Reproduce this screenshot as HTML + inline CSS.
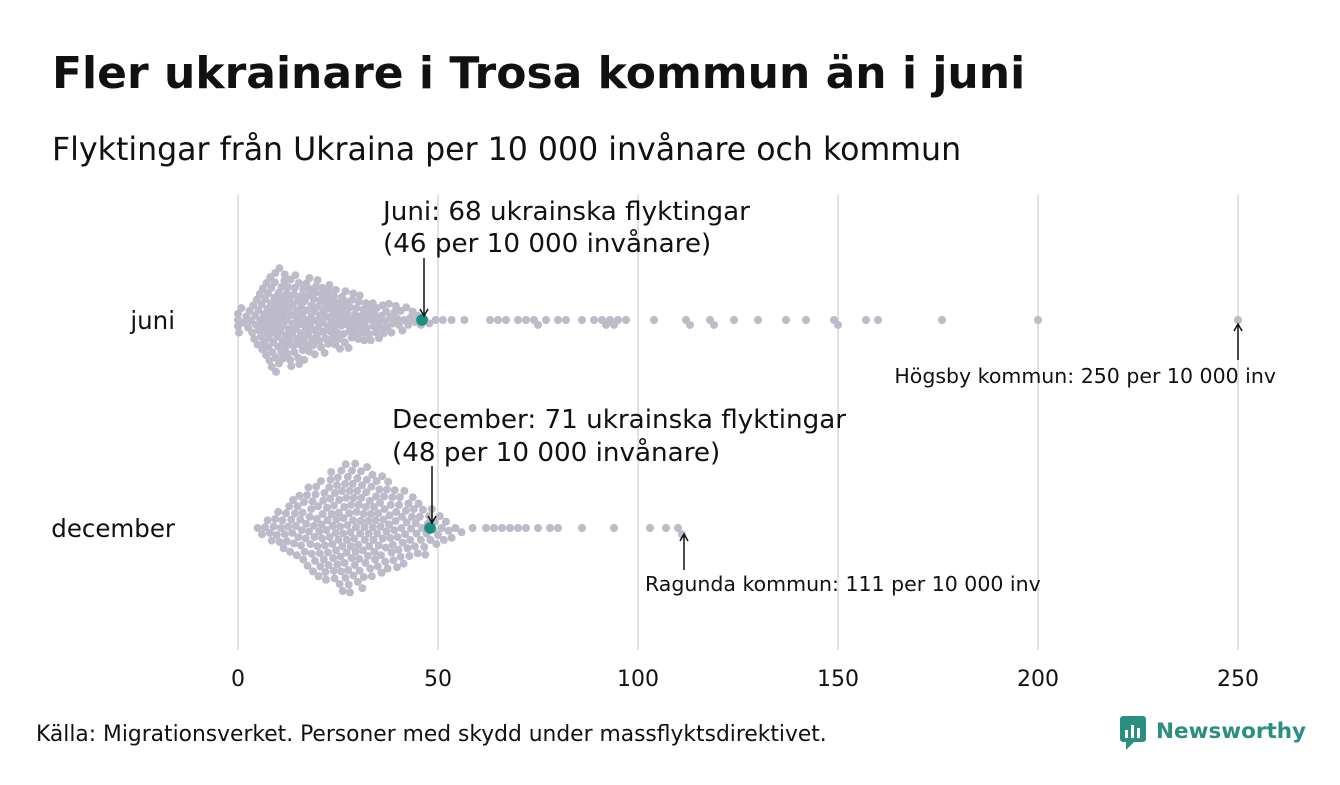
<!DOCTYPE html>
<html><head><meta charset="utf-8"><style>
body{margin:0;width:1340px;height:780px;background:#fff;overflow:hidden;font-family:"Liberation Sans","DejaVu Sans",sans-serif;}
</style></head><body>
<svg id="s" width="1340" height="780" xmlns="http://www.w3.org/2000/svg" font-family="'DejaVu Sans','Liberation Sans',sans-serif">
<text x="52" y="88" font-size="44" font-weight="bold" fill="#111">Fler ukrainare i Trosa kommun än i juni</text>
<text x="52" y="160" font-size="31.6" fill="#111">Flyktingar från Ukraina per 10 000 invånare och kommun</text>
<g stroke="#cfcfcf" stroke-width="1.2">
<line x1="238" y1="195" x2="238" y2="650"/><line x1="438" y1="195" x2="438" y2="650"/>
<line x1="638" y1="195" x2="638" y2="650"/><line x1="838" y1="195" x2="838" y2="650"/>
<line x1="1038" y1="195" x2="1038" y2="650"/><line x1="1238" y1="195" x2="1238" y2="650"/>
</g>
<g font-size="22" fill="#111" text-anchor="middle">
<text x="238" y="686">0</text><text x="438" y="686">50</text><text x="638" y="686">100</text>
<text x="838" y="686">150</text><text x="1038" y="686">200</text><text x="1238" y="686">250</text>
</g>
<g font-size="24.5" fill="#111" text-anchor="end">
<text x="175" y="329">juni</text><text x="175" y="537">december</text>
</g>
<g id="dots"></g>
<g font-size="26.2" fill="#111">
<text x="383" y="220">Juni: 68 ukrainska flyktingar</text>
<text x="383" y="252">(46 per 10 000 invånare)</text>
<text x="392" y="428">December: 71 ukrainska flyktingar</text>
<text x="392" y="461">(48 per 10 000 invånare)</text>
</g>
<g stroke="#111" stroke-width="1.5" fill="none">
<line x1="424" y1="258" x2="424" y2="316"/><path d="M420,309 L424,316 L428,309"/>
<line x1="432" y1="466" x2="432" y2="523"/><path d="M428,516 L432,523 L436,516"/>
<line x1="1238" y1="360" x2="1238" y2="324"/><path d="M1234,331 L1238,324 L1242,331"/>
<line x1="684" y1="570" x2="684" y2="534"/><path d="M680,541 L684,534 L688,541"/>
</g>
<g font-size="20.5" fill="#111">
<text x="1276" y="383" text-anchor="end">Högsby kommun: 250 per 10 000 inv</text>
<text x="645" y="591">Ragunda kommun: 111 per 10 000 inv</text>
</g>
<text x="36" y="741" font-size="21.8" fill="#111">Källa: Migrationsverket. Personer med skydd under massflyktsdirektivet.</text>
<g>
<rect x="1120" y="716" width="26" height="26" rx="3" fill="#2a8f80"/>
<path d="M1126,742 L1126,750 L1134,742 Z" fill="#2a8f80"/>
<rect x="1125" y="730" width="3" height="8" fill="#fff"/><rect x="1131" y="725" width="3" height="13" fill="#fff"/><rect x="1137" y="728" width="3" height="10" fill="#fff"/>
<text x="1156" y="738" font-size="21.5" font-weight="bold" fill="#2a8f80">Newsworthy</text>
</g>
</svg>
<script>
function quant(dens,a,b,n){var st=0.05,xs=[],cs=[],c=0;for(var x=a;x<=b;x+=st){c+=dens(x)*st;xs.push(x);cs.push(c);}
var out=[],j=0;for(var i=0;i<n;i++){var t=(i+0.5)/n*c;while(cs[j]<t)j++;out.push(xs[j]);}return out;}
function swarm(vals,cy,hl,d){var r=4,pl=[],g=document.getElementById('dots'),ns='http://www.w3.org/2000/svg';
vals.sort(function(a,b){return a-b});
vals.forEach(function(v){var x=238+4*v,best=null;
for(var k=0;k<300&&best===null;k++){var off=(k%2?1:-1)*Math.ceil(k/2)*0.7;var ok=true;
for(var m=pl.length-1;m>=0;m--){var p=pl[m];if(x-p[0]>d)break;var dx=x-p[0],dy=cy+off-p[1];if(dx*dx+dy*dy<d*d){ok=false;break;}}
if(ok)best=off;}
pl.push([x,cy+best]);});
pl.forEach(function(p){var c=document.createElementNS(ns,'circle');c.setAttribute('cx',p[0]);c.setAttribute('cy',p[1]);c.setAttribute('r',r);c.setAttribute('fill','#bdbbc9');g.appendChild(c);});
var c=document.createElementNS(ns,'circle');c.setAttribute('cx',238+4*hl);c.setAttribute('cy',cy);c.setAttribute('r',5.8);c.setAttribute('fill','#1a8f80');g.appendChild(c);}
var j=quant(function(x){if(x<2)return 1.5;if(x<8)return 1.5+(x-2)*1.1;if(x<48)return 8.1*(48-x)/40+0.6;return 0.6*Math.max(0,(61-x)/13);},0,61,250);
j=j.concat([0,0,0,63,65,67,70,72,74,75,77,80,82,86,89,91,92,93,94,95,97,104,112,113,118,119,124,130,137,142,149,150,157,160,176,200,250]);
swarm(j,320,46,6.3);
var dd=quant(function(x){if(x<4)return 0;if(x<27)return 0.3+(x-4)/23*7.5;if(x<56)return 7.8*(56-x)/29+0.3;return 0.3;},4,60,262);
dd=dd.concat([62,64,66,68,70,72,75,78,80,86,94,103,107,110,111]);
swarm(dd,528,48,7.3);
</script>
</body></html>
